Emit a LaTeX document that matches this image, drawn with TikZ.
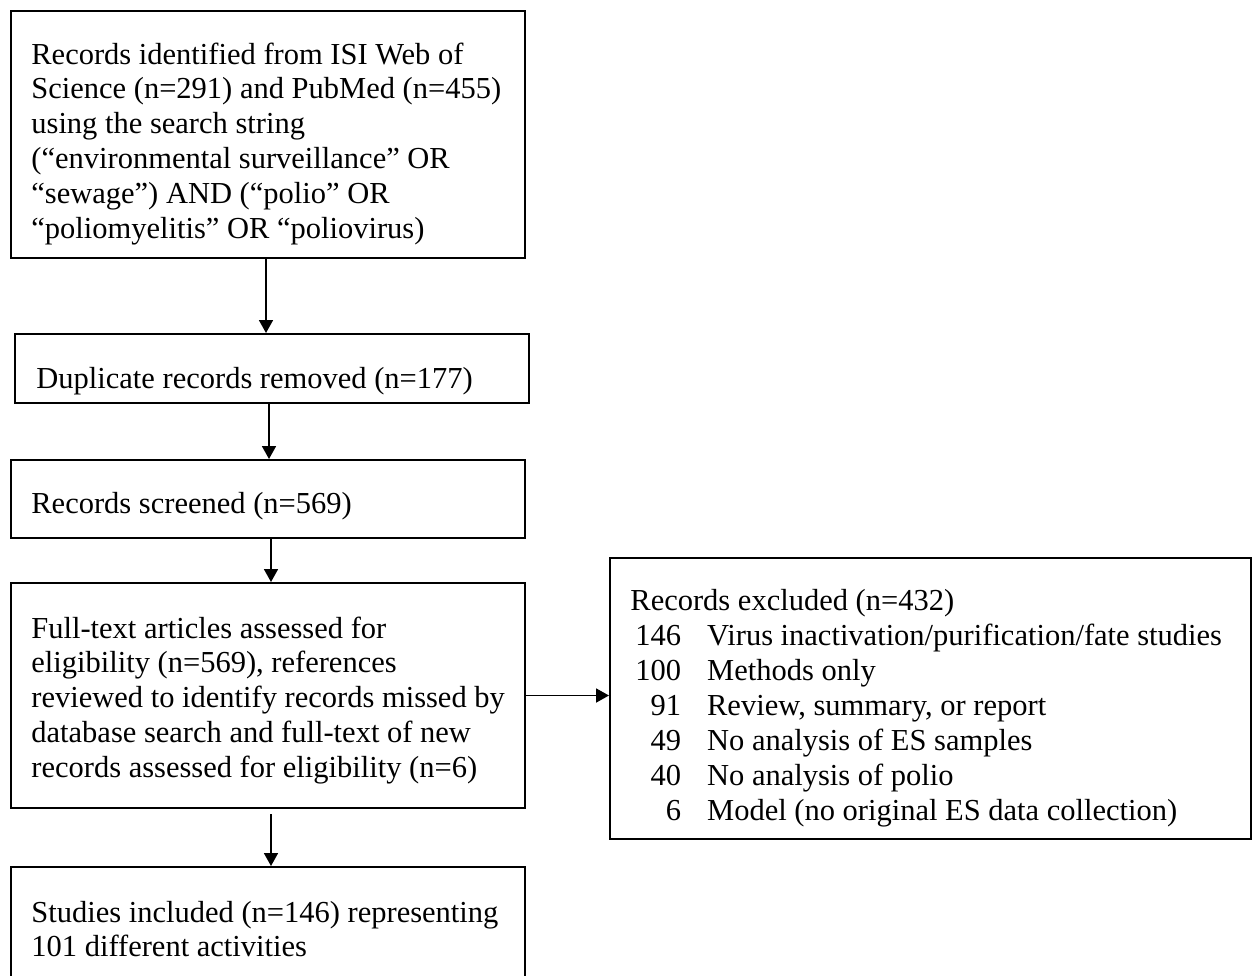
\documentclass[tikz,border=0pt]{standalone}
\usepackage{fontspec}
\setmainfont{Liberation Serif}
\usetikzlibrary{arrows.meta}
\begin{document}
\begin{tikzpicture}[x=0.5pt,y=-0.5pt,
  box/.style={draw, line width=1pt, inner sep=0pt, anchor=north west, rectangle},
  txt/.style={anchor=base west, inner sep=0pt, font=\fontsize{15.25}{17.4}\selectfont},
  arr/.style={line width=0.9pt, -{Triangle[length=6.5pt,width=7pt]}}]
\clip (0,0) rectangle (1256,975);
\fill[white] (0,0) rectangle (1256,975);
% boxes
\node[box, minimum width=257pt, minimum height=123.5pt] (A) at (10,10) {};
\node[box, minimum width=257pt, minimum height=34.5pt] (B) at (14,333) {};
\node[box, minimum width=257pt, minimum height=39pt] (C) at (10,459) {};
\node[box, minimum width=257pt, minimum height=112.5pt] (D) at (10,582) {};
\node[box, minimum width=257pt, minimum height=70pt] (E) at (10,866) {};
\node[box, minimum width=320.5pt, minimum height=140.5pt] (F) at (609,557) {};
% texts
\node[txt] (tA) at (31,64) {\begin{tabular}[t]{@{}l@{}}
Records identified from ISI Web of\\
Science (n=291) and PubMed (n=455)\\
using the search string\\
(“environmental surveillance” OR\\
“sewage”) AND (“polio” OR\\
“poliomyelitis” OR “poliovirus)\end{tabular}};
\node[txt] (tB) at (36,388) {Duplicate records removed (n=177)};
\node[txt] (tC) at (31,513) {Records screened (n=569)};
\node[txt] (tD) at (31,638) {\begin{tabular}[t]{@{}l@{}}
Full-text articles assessed for\\
eligibility (n=569), references\\
reviewed to identify records missed by\\
database search and full-text of new\\
records assessed for eligibility (n=6)\end{tabular}};
\node[txt] (tE) at (31,922) {\begin{tabular}[t]{@{}l@{}}
Studies included (n=146) representing\\
101 different activities\end{tabular}};
\node[txt, font=\fontsize{15.25}{17.5}\selectfont] (tF) at (630,610) {\begin{tabular}[t]{@{\hspace{2.5pt}}r@{\hspace{13pt}}l@{}}
\multicolumn{2}{@{}l@{}}{Records excluded (n=432)}\\
146 & Virus inactivation/purification/fate studies\\
100 & Methods only\\
91 & Review, summary, or report\\
49 & No analysis of ES samples\\
40 & No analysis of polio\\
6 & Model (no original ES data collection)\end{tabular}};
% connectors
\draw[arr] ([xshift=-1pt]A.south) -- ([xshift=-1pt]A.south |- B.north);
\draw[arr] ([xshift=-1.5pt]B.south) -- ([xshift=-1.5pt]B.south |- C.north);
\draw[arr] ([xshift=1.5pt]C.south) -- ([xshift=1.5pt]C.south |- D.north);
\draw[arr] ([xshift=1.5pt,yshift=-2.5pt]D.south) -- ([xshift=1.5pt]D.south |- E.north);
\draw[arr] (D.east) -- (D.east -| F.west);
\end{tikzpicture}
\end{document}
